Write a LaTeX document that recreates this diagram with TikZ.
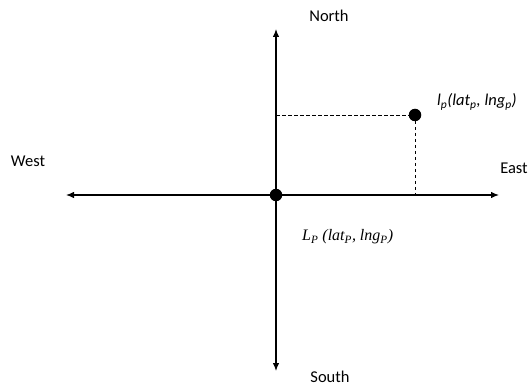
\documentclass[tikz,border=0pt]{standalone}
\usepackage{fontspec}
\setmainfont{Carlito}
\newfontfamily\serifit{Liberation Serif}
\usetikzlibrary{arrows.meta}
\begin{document}
\begin{tikzpicture}[x=1pt,y=-1pt,
  axis/.style={line width=1.2pt, -{Latex[length=8pt,width=6.5pt]}},
  guide/.style={line width=0.9pt, dashed, dash pattern=on 3.5pt off 2.5pt},
  dirlabel/.style={font=\fontsize{16.5}{18}\selectfont, text=black},
  ptlabel/.style={font=\fontsize{16.5}{18}\selectfont\itshape, text=black},
  dot/.style={circle, fill=black, inner sep=0pt, minimum size=12.5pt}]
\useasboundingbox (0,0) rectangle (530,387);
\coordinate (O) at (276,195);
\coordinate (W) at (66,195);
\coordinate (E) at (499,195);
\coordinate (N) at (276,29);
\coordinate (S) at (276,371);
\coordinate (Py) at (276,115);
\coordinate (Px) at (415,195);
\node[dot] (o) at (O) {};
\node[dot] (p) at (415,115) {};
\draw[axis] (O) -- (W);
\draw[axis] (O) -- (E);
\draw[axis] (O) -- (N);
\draw[axis] (O) -- (S);
\draw[guide] (Py) -- (p.center);
\draw[guide] (p.center) -- (Px);
\node[dirlabel, inner sep=1pt] (north) at (329,16) {North};
\node[dirlabel, inner sep=0pt] (south) at (330,377) {South};
\node[dirlabel] (west) at (28,161) {West};
\node[dirlabel] (east) at (514,168) {East};
\node[ptlabel, anchor=west, inner sep=0pt] (lp) at (437,102) {l\textsubscript{p}(lat\textsubscript{p}, lng\textsubscript{p})};
\node[ptlabel, anchor=west, inner sep=0pt, font=\serifit\fontsize{16}{18}\selectfont\itshape] (LP) at (302,237) {L\textsubscript{P} (lat\textsubscript{P}, lng\textsubscript{P})};
\end{tikzpicture}
\end{document}
